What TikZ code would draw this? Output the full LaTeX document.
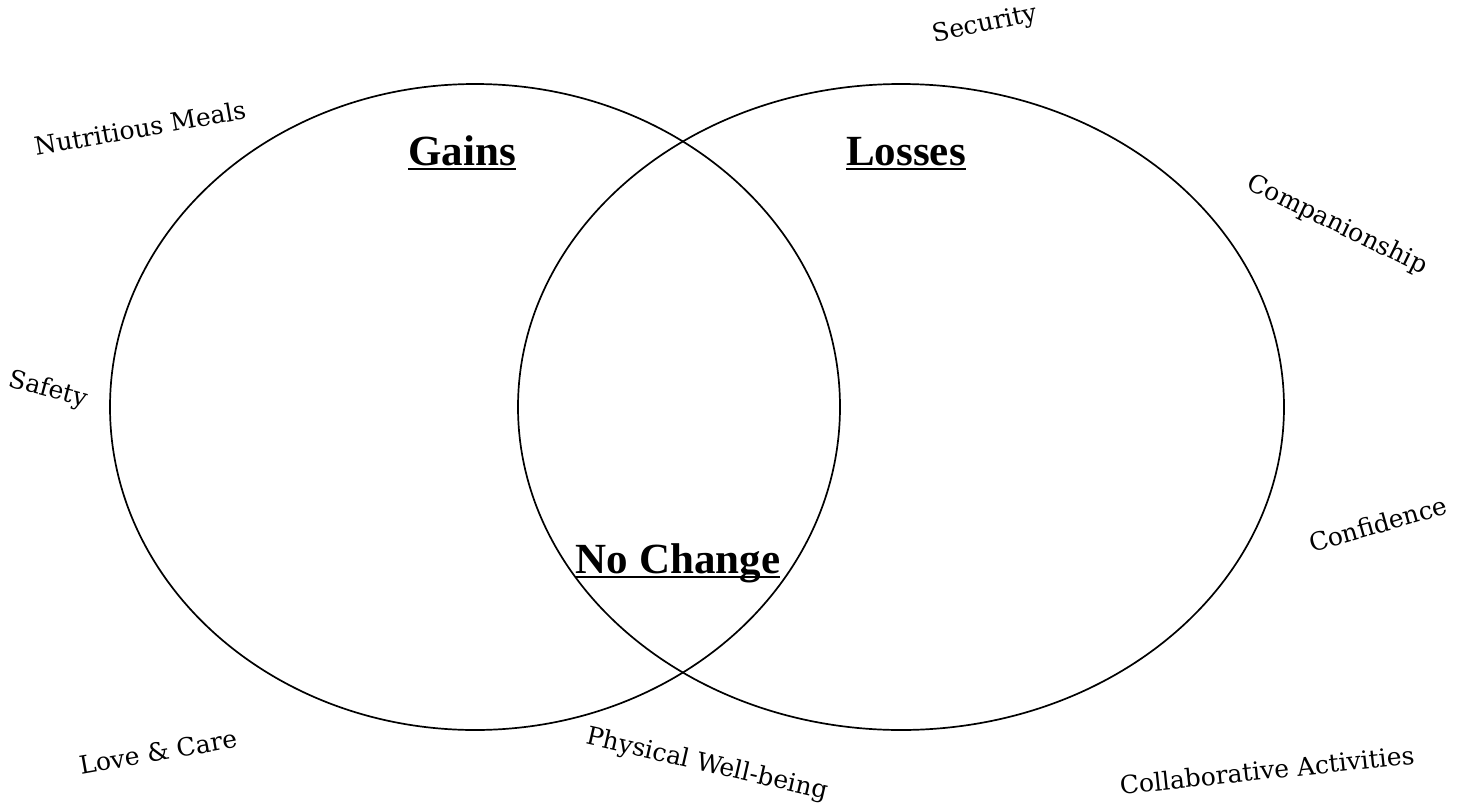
\documentclass[tikz,border=0pt]{standalone}
\usepackage{fontspec}
\setmainfont{DejaVu Serif}
\newfontfamily\headfont{Liberation Serif}
\begin{document}
\begin{tikzpicture}[x=1pt,y=-1pt,
  lbl/.style={font=\fontsize{25}{29}\selectfont, inner sep=0pt},
  head/.style={font=\headfont\bfseries\fontsize{43}{50}\selectfont, inner sep=0pt, anchor=base},
  ring/.style={draw, line width=1.7pt},
  uline/.style={line width=2pt}]
\useasboundingbox (0,0) rectangle (1468,806);
\draw[ring] (475,407) ellipse [x radius=365, y radius=323];
\draw[ring] (901,407) ellipse [x radius=383, y radius=323];
\node[head] (gains) at (462,165) {Gains};
\node[head] (losses) at (906,165) {Losses};
\node[head] (nochange) at (678,573) {No Change};
\foreach \n in {gains,losses,nochange}
  \draw[uline] ([yshift=-4pt]\n.base west) -- ([yshift=-4pt]\n.base east);
\node[lbl, rotate=10] (meals) at (140,128) {Nutritious Meals};
\node[lbl, rotate=12] (security) at (985,25) {Security};
\node[lbl, rotate=-26] (companion) at (1337,225) {Companionship};
\node[lbl, rotate=-15] (safety) at (48,390) {Safety};
\node[lbl, rotate=16] (confidence) at (1378,524) {Confidence};
\node[lbl, rotate=10] (love) at (158,752) {Love \& Care};
\node[lbl, rotate=-13] (physical) at (707,765) {Physical Well-being};
\node[lbl, rotate=6] (collab) at (1267,770) {Collaborative Activities};
\end{tikzpicture}
\end{document}
